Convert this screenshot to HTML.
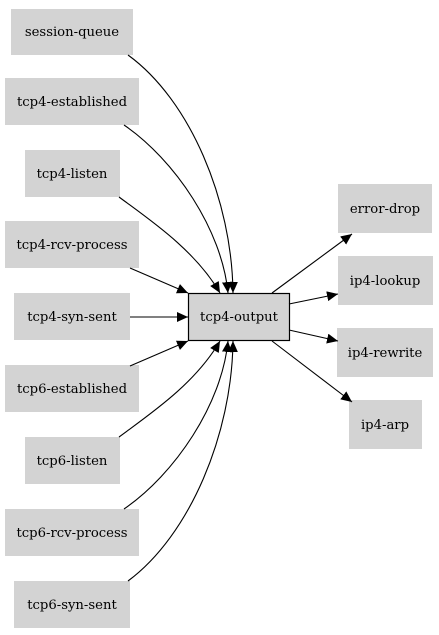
<!DOCTYPE html>
<html><head><style>
body{margin:0;background:#fff;width:439px;height:635px;overflow:hidden}
svg{display:block}
text{font-family:"DejaVu Serif",serif;font-size:13.2px;text-anchor:middle;fill:#000}
</style></head><body>
<svg width="439" height="635" viewBox="0 0 439 635">
<defs><marker id="a" markerWidth="11" markerHeight="10" refX="11" refY="5" orient="auto" markerUnits="userSpaceOnUse"><path d="M0,0L11,5L0,10z" fill="#000"/></marker></defs>
<g fill="#d3d3d3">
<rect x="11" y="9" width="122" height="46"/>
<rect x="5" y="78" width="134" height="47"/>
<rect x="25" y="150" width="95" height="47"/>
<rect x="5" y="221" width="134" height="47"/>
<rect x="14" y="293" width="116" height="47"/>
<rect x="5" y="365" width="134" height="47"/>
<rect x="25" y="437" width="95" height="47"/>
<rect x="5" y="509" width="134" height="47"/>
<rect x="14" y="581" width="116" height="47"/>
<rect x="338" y="184" width="94" height="49"/>
<rect x="338" y="256" width="95" height="49"/>
<rect x="337" y="328" width="96" height="49"/>
<rect x="349" y="400" width="73" height="49"/>
</g>
<rect x="188.5" y="293.5" width="101" height="47" fill="#d3d3d3" stroke="#000" stroke-width="1.2"/>
<g fill="none" stroke="#000" stroke-width="1.1" marker-end="url(#a)">
<path d="M128,55 C190,100 232,200 233,293"/>
<path d="M124,125 C175,160 222,230 228,293"/>
<path d="M119,197 C150,220 195,250 220,293"/>
<path d="M130,268 L188,293"/>
<path d="M130,317 L188,317"/>
<path d="M130,366 L188,341"/>
<path d="M119,437 C150,414 195,384 220,341"/>
<path d="M124,509 C175,474 222,404 228,341"/>
<path d="M128,581 C190,535 232,434 233,341"/>
<path d="M272,293 L352,234"/>
<path d="M289,304 L338,294"/>
<path d="M289,330 L338,341"/>
<path d="M272,341 L352,402"/>
</g>
<text x="72" y="36">session-queue</text>
<text x="72" y="106">tcp4-established</text>
<text x="72" y="178">tcp4-listen</text>
<text x="72" y="249">tcp4-rcv-process</text>
<text x="72" y="321">tcp4-syn-sent</text>
<text x="72" y="393">tcp6-established</text>
<text x="72" y="465">tcp6-listen</text>
<text x="72" y="537">tcp6-rcv-process</text>
<text x="72" y="609">tcp6-syn-sent</text>
<text x="239" y="321">tcp4-output</text>
<text x="385" y="213">error-drop</text>
<text x="385" y="285">ip4-lookup</text>
<text x="385" y="357">ip4-rewrite</text>
<text x="385" y="429">ip4-arp</text>
</svg>
</body></html>
